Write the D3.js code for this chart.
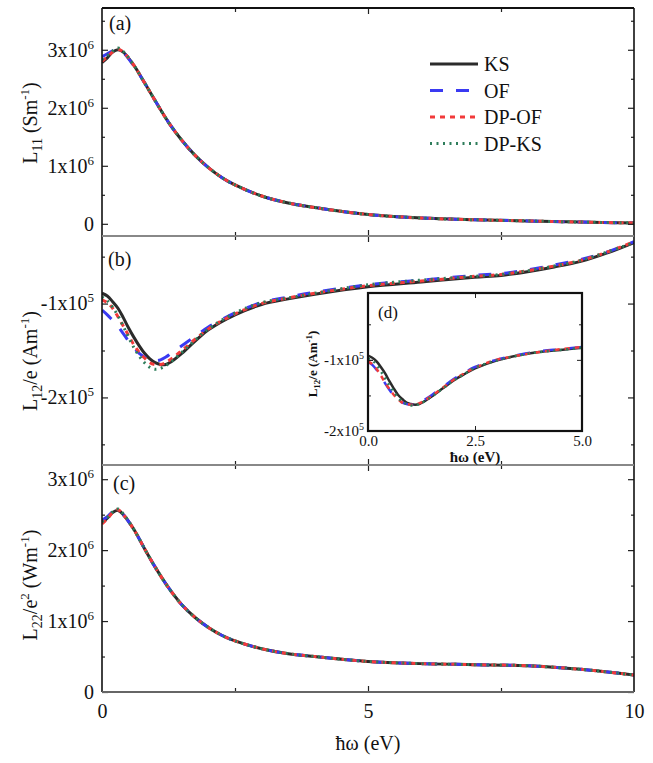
<!DOCTYPE html>
<html>
<head>
<meta charset="utf-8">
<script src="https://cdn.jsdelivr.net/npm/d3@7"></script>
<style>
  body { margin: 0; background: #fff; }
  svg, svg text { font-family: "Liberation Serif", "DejaVu Serif", serif; }
</style>
</head>
<body>
<div class="vis"></div>
<script>
// ---- data ----
const seriesNames = ["KS", "OF", "DP-OF", "DP-KS"];

// panel (a): L11, units of 1e6 S/m
const xA = [0, 0.1, 0.2, 0.3, 0.4, 0.6, 0.8, 1.0, 1.25, 1.5, 1.75, 2.0, 2.25, 2.5, 3.0, 3.5, 4.0, 5.0, 6.0, 7.0, 8.0, 9.0, 10.0];
const aKS   = [2.78, 2.86, 2.96, 3.00, 2.96, 2.73, 2.43, 2.12, 1.75, 1.44, 1.18, 0.97, 0.80, 0.67, 0.48, 0.36, 0.28, 0.16, 0.10, 0.07, 0.05, 0.03, 0.015];
const aOF   = [2.88, 2.93, 2.98, 3.00, 2.95, 2.72, 2.43, 2.12, 1.75, 1.44, 1.18, 0.97, 0.80, 0.67, 0.48, 0.36, 0.28, 0.16, 0.10, 0.07, 0.05, 0.03, 0.015];
const aDPOF = [2.80, 2.88, 2.96, 3.01, 2.96, 2.73, 2.43, 2.12, 1.75, 1.44, 1.18, 0.97, 0.80, 0.67, 0.48, 0.36, 0.28, 0.16, 0.10, 0.07, 0.05, 0.03, 0.015];
const aDPKS = [2.83, 2.90, 2.98, 3.03, 2.97, 2.73, 2.43, 2.12, 1.75, 1.44, 1.18, 0.97, 0.80, 0.67, 0.48, 0.36, 0.28, 0.16, 0.10, 0.07, 0.05, 0.03, 0.015];

// panel (b): L12/e, units of 1e5 A/m
const xB = [0, 0.1, 0.2, 0.3, 0.4, 0.5, 0.6, 0.7, 0.8, 0.9, 1.0, 1.1, 1.2, 1.3, 1.5, 1.75, 2.0, 2.5, 3.0, 3.5, 4.0, 5.0, 6.0, 7.0, 7.5, 8.0, 8.5, 9.0, 9.5, 10];
const bKS   = [-0.89, -0.92, -0.98, -1.05, -1.15, -1.26, -1.36, -1.45, -1.53, -1.59, -1.63, -1.65, -1.65, -1.62, -1.53, -1.40, -1.28, -1.12, -1.01, -0.95, -0.90, -0.82, -0.77, -0.72, -0.70, -0.66, -0.61, -0.55, -0.46, -0.35];
const bOF   = [-1.07, -1.12, -1.18, -1.24, -1.32, -1.40, -1.47, -1.53, -1.57, -1.60, -1.61, -1.60, -1.57, -1.53, -1.45, -1.35, -1.25, -1.10, -0.99, -0.93, -0.88, -0.80, -0.75, -0.70, -0.68, -0.64, -0.59, -0.53, -0.45, -0.34];
const bDPOF = [-0.96, -0.99, -1.05, -1.14, -1.24, -1.34, -1.44, -1.52, -1.58, -1.63, -1.65, -1.65, -1.63, -1.59, -1.50, -1.38, -1.27, -1.11, -1.00, -0.94, -0.89, -0.81, -0.76, -0.71, -0.69, -0.65, -0.60, -0.54, -0.45, -0.34];
const bDPKS = [-0.93, -0.97, -1.04, -1.13, -1.24, -1.36, -1.47, -1.56, -1.63, -1.68, -1.70, -1.69, -1.66, -1.62, -1.52, -1.39, -1.27, -1.10, -0.99, -0.94, -0.89, -0.80, -0.75, -0.71, -0.69, -0.65, -0.60, -0.54, -0.45, -0.35];

// panel (c): L22/e^2, units of 1e6 W/m
const xC = [0, 0.1, 0.2, 0.3, 0.4, 0.6, 0.8, 1.0, 1.25, 1.5, 1.75, 2.0, 2.25, 2.5, 3.0, 3.5, 4.0, 5.0, 6.0, 7.0, 8.0, 9.0, 10.0];
const cKS   = [2.39, 2.45, 2.53, 2.56, 2.50, 2.29, 2.02, 1.76, 1.47, 1.23, 1.05, 0.91, 0.80, 0.72, 0.61, 0.54, 0.50, 0.43, 0.40, 0.385, 0.37, 0.32, 0.24];
const cOF   = [2.42, 2.47, 2.54, 2.56, 2.50, 2.29, 2.02, 1.76, 1.47, 1.23, 1.05, 0.91, 0.80, 0.72, 0.61, 0.54, 0.50, 0.43, 0.40, 0.385, 0.37, 0.32, 0.24];
const cDPOF = [2.37, 2.44, 2.53, 2.57, 2.50, 2.29, 2.02, 1.76, 1.47, 1.23, 1.05, 0.91, 0.80, 0.72, 0.61, 0.54, 0.50, 0.43, 0.40, 0.385, 0.37, 0.32, 0.24];
const cDPKS = [2.40, 2.46, 2.54, 2.58, 2.51, 2.29, 2.02, 1.76, 1.47, 1.23, 1.05, 0.91, 0.80, 0.72, 0.61, 0.54, 0.50, 0.43, 0.40, 0.385, 0.37, 0.32, 0.24];

// inset (d): L12/e, units of 1e5 A/m, 0-5 eV
const xD = [0, 0.1, 0.2, 0.3, 0.4, 0.5, 0.6, 0.7, 0.8, 0.9, 1.0, 1.1, 1.2, 1.3, 1.5, 1.75, 2.0, 2.25, 2.5, 3.0, 3.5, 4.0, 4.5, 5.0];
const dKS   = [-0.94, -0.97, -1.02, -1.10, -1.19, -1.30, -1.40, -1.49, -1.55, -1.60, -1.62, -1.63, -1.62, -1.59, -1.51, -1.40, -1.29, -1.20, -1.12, -1.01, -0.94, -0.89, -0.86, -0.83];
const dOF   = [-1.03, -1.07, -1.14, -1.23, -1.33, -1.42, -1.50, -1.56, -1.60, -1.62, -1.63, -1.63, -1.61, -1.57, -1.49, -1.38, -1.27, -1.18, -1.10, -1.00, -0.93, -0.88, -0.85, -0.82];
const dDPOF = [-1.02, -1.06, -1.13, -1.22, -1.32, -1.41, -1.49, -1.55, -1.60, -1.62, -1.63, -1.63, -1.61, -1.58, -1.50, -1.39, -1.28, -1.19, -1.11, -1.00, -0.94, -0.89, -0.85, -0.82];
const dDPKS = [-0.98, -1.01, -1.07, -1.16, -1.26, -1.36, -1.45, -1.53, -1.59, -1.62, -1.64, -1.64, -1.62, -1.59, -1.51, -1.40, -1.29, -1.20, -1.11, -1.01, -0.94, -0.89, -0.86, -0.83];

// line styles
const colors = ["#2b2b2b", "#3a3af2", "#f23a3a", "#2e7d5b"];
const dashes = [null, "13,13", "5,5", "2,4.5"];
const FONT = "'Liberation Serif', 'DejaVu Serif', serif";

// ---- layout ----
const width = 653, height = 763;
const left = 102, right = 634;

const svg = d3.select(".vis")
  .append("svg")
  .attr("width", width)
  .attr("height", height)
  .attr("font-family", FONT);

const x = d3.scaleLinear().domain([0, 10]).range([left, right]);

const line = (xs, xsc, ysc) => d3.line()
  .x((d, i) => xsc(xs[i]))
  .y(d => ysc(d))
  .curve(d3.curveCatmullRom.alpha(0.5));

// writes "m x10^e" as text with a superscript
function sciText(t, d, exp, supSize, supDy) {
  t.text(null);
  if (d === 0) { t.text("0"); return; }
  t.append("tspan").text(d + "x10");
  t.append("tspan").attr("dy", -supDy).attr("font-size", supSize).text(exp);
}

function drawPanel(p) {
  const y = d3.scaleLinear().domain(p.domain).range([p.bottom, p.top]);
  const g = svg.append("g");

  const clipId = "clip" + p.name;
  svg.append("clipPath").attr("id", clipId)
    .append("rect").attr("x", left).attr("y", p.top)
    .attr("width", right - left).attr("height", p.bottom - p.top);

  // curves
  const curves = g.append("g").attr("clip-path", "url(#" + clipId + ")");
  p.series.forEach((s, i) => {
    curves.append("path")
      .datum(s)
      .attr("fill", "none")
      .attr("stroke", colors[i])
      .attr("stroke-width", 3)
      .attr("stroke-dasharray", dashes[i])
      .attr("d", line(p.xs, x, y));
  });

  // left axis with labels
  const la = g.append("g")
    .attr("transform", "translate(" + left + ",0)")
    .call(d3.axisLeft(y).tickValues(p.majors).tickSize(-6).tickPadding(8))
    .attr("font-family", FONT).attr("font-size", 20);
  la.select(".domain").remove();
  la.selectAll(".tick line").attr("stroke", "#222").attr("stroke-width", 1.2);
  la.selectAll(".tick text").attr("fill", "#111").each(function (d) {
    sciText(d3.select(this), d / p.unit, p.exp, 13, 8);
  });
  g.append("g").attr("transform", "translate(" + left + ",0)")
    .call(d3.axisLeft(y).tickValues(p.minors).tickSize(-3).tickFormat(""))
    .call(a => a.select(".domain").remove())
    .selectAll(".tick line").attr("stroke", "#222").attr("stroke-width", 1.2);

  // right axis
  [[p.majors, -6], [p.minors, -3]].forEach(([v, s]) => {
    g.append("g").attr("transform", "translate(" + right + ",0)")
      .call(d3.axisRight(y).tickValues(v).tickSize(s).tickFormat(""))
      .call(a => a.select(".domain").remove())
      .selectAll(".tick line").attr("stroke", "#222").attr("stroke-width", 1.2);
  });

  // top & bottom x ticks
  [[[5], -6], [[2.5, 7.5], -4]].forEach(([v, s]) => {
    g.append("g").attr("transform", "translate(0," + p.top + ")")
      .call(d3.axisTop(x).tickValues(v).tickSize(s).tickFormat(""))
      .call(a => a.select(".domain").remove())
      .selectAll(".tick line").attr("stroke", "#222").attr("stroke-width", 1.2);
    g.append("g").attr("transform", "translate(0," + p.bottom + ")")
      .call(d3.axisBottom(x).tickValues(v).tickSize(s).tickFormat(""))
      .call(a => a.select(".domain").remove())
      .selectAll(".tick line").attr("stroke", "#222").attr("stroke-width", 1.2);
  });

  // frame
  g.append("line").attr("x1", left).attr("x2", left).attr("y1", p.top).attr("y2", p.bottom)
    .attr("stroke", "#111").attr("stroke-width", 1.6);
  g.append("line").attr("x1", right).attr("x2", right).attr("y1", p.top).attr("y2", p.bottom)
    .attr("stroke", "#111").attr("stroke-width", 1.6);
  g.append("line").attr("x1", left).attr("x2", right).attr("y1", p.top).attr("y2", p.top)
    .attr("stroke", p.topColor).attr("stroke-width", 1.8);

  // panel letter
  g.append("text").attr("x", p.lx).attr("y", p.ly)
    .attr("font-size", 20).attr("fill", "#111").text(p.letter);

  // y title
  const t = g.append("text")
    .attr("transform", "translate(37," + p.ty + ") rotate(-90)")
    .attr("text-anchor", "middle")
    .attr("font-size", 20).attr("fill", "#111");
  p.title(t);
  return y;
}

// panel (a)
drawPanel({
  name: "a", top: 8, bottom: 236, domain: [-0.21, 3.72],
  xs: xA, series: [aKS, aOF, aDPOF, aDPKS],
  majors: [0, 1, 2, 3], minors: [0.5, 1.5, 2.5, 3.5], unit: 1, exp: "6",
  topColor: "#111", letter: "(a)", lx: 109, ly: 30, ty: 123,
  title: t => {
    t.append("tspan").text("L");
    t.append("tspan").attr("font-size", 14).attr("dy", 5).text("11");
    t.append("tspan").attr("dy", -5).text(" (Sm");
    t.append("tspan").attr("font-size", 13).attr("dy", -8).text("-1");
    t.append("tspan").attr("dy", 8).text(")");
  }
});

// panel (b)
drawPanel({
  name: "b", top: 236, bottom: 465, domain: [-2.72, -0.28],
  xs: xB, series: [bKS, bOF, bDPOF, bDPKS],
  majors: [-2, -1], minors: [-2.5, -1.5, -0.5], unit: 1, exp: "5",
  topColor: "#888", letter: "(b)", lx: 108, ly: 266, ty: 361,
  title: t => {
    t.append("tspan").text("L");
    t.append("tspan").attr("font-size", 14).attr("dy", 5).text("12");
    t.append("tspan").attr("dy", -5).text("/e (Am");
    t.append("tspan").attr("font-size", 13).attr("dy", -8).text("-1");
    t.append("tspan").attr("dy", 8).text(")");
  }
});

// panel (c)
drawPanel({
  name: "c", top: 465, bottom: 692, domain: [0, 3.2],
  xs: xC, series: [cKS, cOF, cDPOF, cDPKS],
  majors: [0, 1, 2, 3], minors: [0.5, 1.5, 2.5], unit: 1, exp: "6",
  topColor: "#888", letter: "(c)", lx: 113, ly: 490, ty: 585,
  title: t => {
    t.append("tspan").text("L");
    t.append("tspan").attr("font-size", 14).attr("dy", 5).text("22");
    t.append("tspan").attr("dy", -5).text("/e");
    t.append("tspan").attr("font-size", 13).attr("dy", -8).text("2");
    t.append("tspan").attr("dy", 8).text(" (Wm");
    t.append("tspan").attr("font-size", 13).attr("dy", -8).text("-1");
    t.append("tspan").attr("dy", 8).text(")");
  }
});

// bottom axis line + labels
svg.append("line").attr("x1", left).attr("x2", right).attr("y1", 692).attr("y2", 692)
  .attr("stroke", "#666").attr("stroke-width", 1.8);
const xa = svg.append("g").attr("transform", "translate(0,692)")
  .call(d3.axisBottom(x).tickValues([0, 5, 10]).tickSize(0).tickPadding(12))
  .attr("font-family", FONT).attr("font-size", 20);
xa.select(".domain").remove();
xa.selectAll("text").attr("fill", "#111");

svg.append("text").attr("x", (left + right) / 2).attr("y", 750)
  .attr("text-anchor", "middle").attr("font-size", 20).attr("fill", "#111")
  .text("ħω (eV)");

// legend
const legend = svg.append("g");
seriesNames.forEach((n, i) => {
  const ly = 64 + i * 26.5;
  legend.append("line").attr("x1", 430).attr("x2", 478).attr("y1", ly).attr("y2", ly)
    .attr("stroke", colors[i]).attr("stroke-width", 3).attr("stroke-dasharray", dashes[i]);
  legend.append("text").attr("x", 484).attr("y", ly + 7)
    .attr("font-size", 20).attr("fill", "#111").text(n);
});

// ---- inset (d) ----
const ix = d3.scaleLinear().domain([0, 5]).range([368, 582]);
const iy = d3.scaleLinear().domain([-2, -0.06]).range([431, 293]);
const inset = svg.append("g");

inset.append("rect").attr("x", 368).attr("y", 293).attr("width", 582 - 368).attr("height", 431 - 293)
  .attr("fill", "#fff");

[dKS, dOF, dDPOF, dDPKS].forEach((s, i) => {
  inset.append("path")
    .datum(s)
    .attr("fill", "none")
    .attr("stroke", colors[i])
    .attr("stroke-width", 2.5)
    .attr("stroke-dasharray", dashes[i])
    .attr("d", line(xD, ix, iy));
});

const ila = inset.append("g").attr("transform", "translate(368,0)")
  .call(d3.axisLeft(iy).tickValues([-2, -1]).tickSize(-5).tickPadding(4))
  .attr("font-family", FONT).attr("font-size", 15);
ila.select(".domain").remove();
ila.selectAll(".tick line").attr("stroke", "#222");
ila.selectAll(".tick text").attr("fill", "#111").each(function (d) {
  sciText(d3.select(this), d, "5", 10, 6);
});
[[[-2, -1], -5], [[-1.5, -0.5], -3]].forEach(([v, s]) => {
  inset.append("g").attr("transform", "translate(368,0)")
    .call(d3.axisLeft(iy).tickValues(v).tickSize(s).tickFormat(""))
    .call(a => a.select(".domain").remove())
    .selectAll(".tick line").attr("stroke", "#222");
  inset.append("g").attr("transform", "translate(582,0)")
    .call(d3.axisRight(iy).tickValues(v).tickSize(s).tickFormat(""))
    .call(a => a.select(".domain").remove())
    .selectAll(".tick line").attr("stroke", "#222");
});
inset.append("g").attr("transform", "translate(0,293)")
  .call(d3.axisTop(ix).tickValues([2.5]).tickSize(-5).tickFormat(""))
  .call(a => a.select(".domain").remove())
  .selectAll(".tick line").attr("stroke", "#222");
const ixa = inset.append("g").attr("transform", "translate(0,431)")
  .call(d3.axisBottom(ix).tickValues([0, 2.5, 5]).tickSize(0).tickPadding(4).tickFormat(d3.format(".1f")))
  .attr("font-family", FONT).attr("font-size", 15);
ixa.select(".domain").remove();
ixa.selectAll("text").attr("fill", "#111");
inset.append("g").attr("transform", "translate(0,431)")
  .call(d3.axisBottom(ix).tickValues([2.5]).tickSize(-5).tickFormat(""))
  .call(a => a.select(".domain").remove())
  .selectAll(".tick line").attr("stroke", "#222");

inset.append("rect").attr("x", 368).attr("y", 293).attr("width", 582 - 368).attr("height", 431 - 293)
  .attr("fill", "none").attr("stroke", "#111").attr("stroke-width", 2.2);

inset.append("text").attr("x", 378).attr("y", 318).attr("font-size", 17).attr("fill", "#111").text("(d)");

inset.append("text").attr("x", 475).attr("y", 462).attr("text-anchor", "middle")
  .attr("font-size", 15).attr("font-weight", "bold").attr("fill", "#111").text("ħω (eV)");

const it = inset.append("text")
  .attr("transform", "translate(317,364) rotate(-90)")
  .attr("text-anchor", "middle").attr("font-size", 13).attr("font-weight", "bold").attr("fill", "#111");
it.append("tspan").text("L");
it.append("tspan").attr("font-size", 9).attr("dy", 3).text("12");
it.append("tspan").attr("dy", -3).text("/e (Am");
it.append("tspan").attr("font-size", 9).attr("dy", -5).text("-1");
it.append("tspan").attr("dy", 5).text(")");
</script>
</body>
</html>
